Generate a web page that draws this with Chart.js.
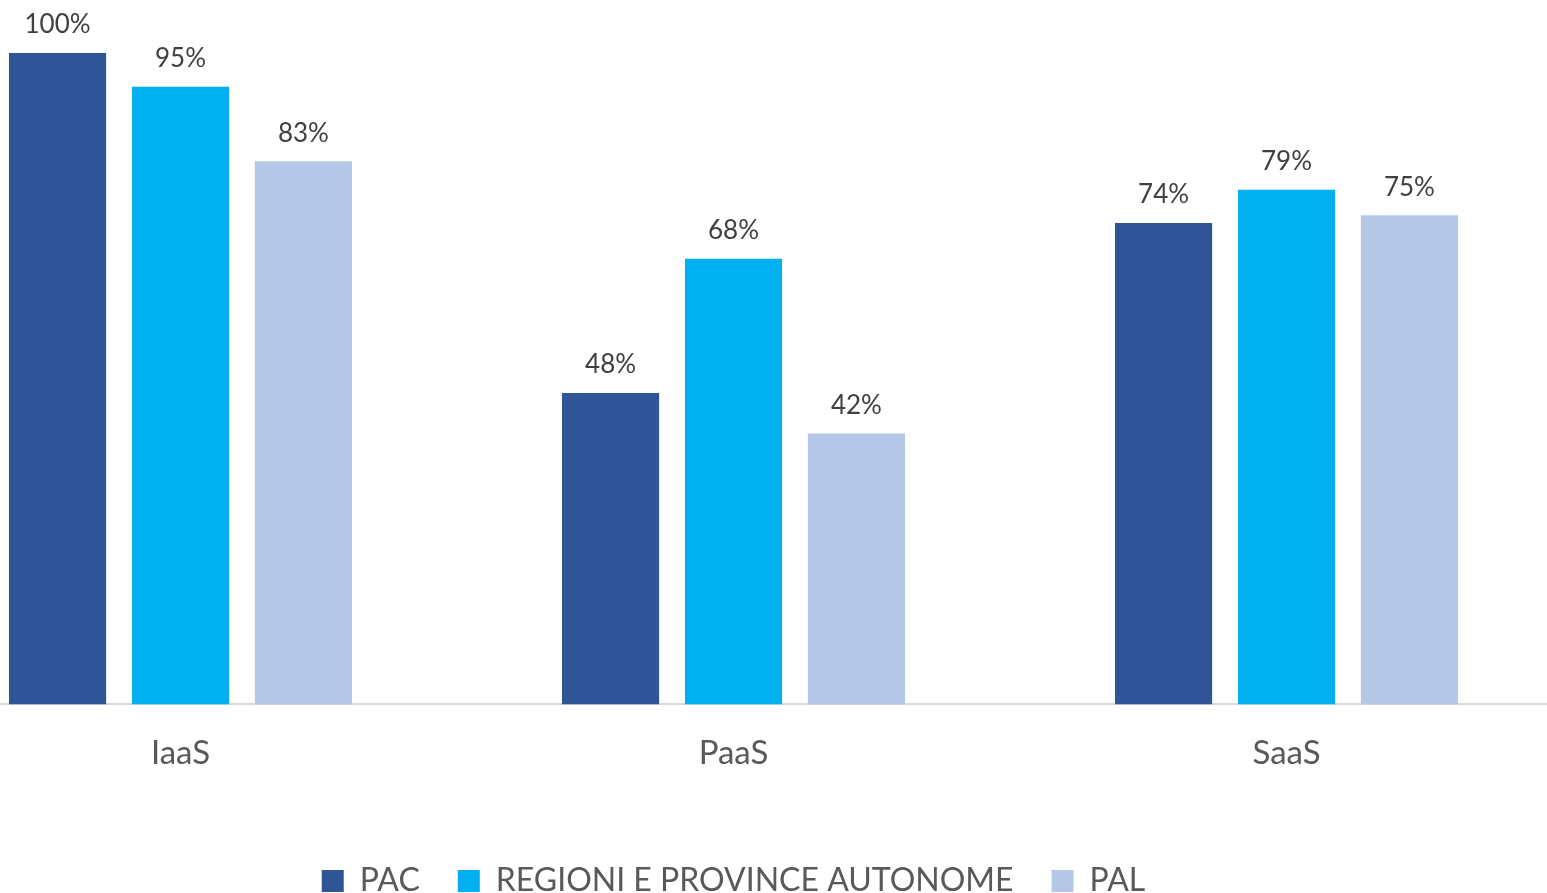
<!DOCTYPE html>
<html>
<head>
<meta charset="utf-8">
<script src="https://cdn.jsdelivr.net/npm/chart.js@4"></script>
<style>
html,body{margin:0;padding:0;background:#fff;overflow:hidden;width:1547px;height:893px;}
#wrap{position:absolute;left:-96px;top:0;width:1659px;height:907px;}
</style>
</head>
<body>
<div id="wrap"><canvas id="c"></canvas></div>
<script>
const categories = ['IaaS', 'PaaS', 'SaaS'];
const seriesNames = ['PAC', 'REGIONI E PROVINCE AUTONOME', 'PAL'];
const pacValues = [100, 47.8, 73.9];
const regioniValues = [94.8, 68.4, 79.0];
const palValues = [83.4, 41.6, 75.1];
const colors = ['#2F5597', '#00B0F0', '#B4C7E7'];

const FONT = 'Lato, "Open Sans", sans-serif';

const dataLabelPlugin = {
  id: 'dataLabels',
  afterDatasetsDraw(chart) {
    const ctx = chart.ctx;
    ctx.save();
    ctx.font = '26px ' + FONT;
    ctx.fillStyle = '#404040';
    ctx.textAlign = 'center';
    ctx.textBaseline = 'middle';
    chart.data.datasets.forEach((ds, i) => {
      const meta = chart.getDatasetMeta(i);
      meta.data.forEach((bar, j) => {
        ctx.fillText(Math.round(ds.data[j]) + '%', bar.x, bar.y - 28);
      });
    });
    ctx.restore();
  }
};

new Chart(document.getElementById('c'), {
  type: 'bar',
  data: {
    labels: categories,
    datasets: [
      { label: seriesNames[0], data: pacValues, backgroundColor: colors[0] },
      { label: seriesNames[1], data: regioniValues, backgroundColor: colors[1] },
      { label: seriesNames[2], data: palValues, backgroundColor: colors[2] }
    ]
  },
  options: {
    responsive: true,
    maintainAspectRatio: false,
    animation: false,
    layout: { padding: { top: 53, left: 0, right: 0, bottom: 0 } },
    datasets: { bar: { categoryPercentage: 0.667, barPercentage: 0.79 } },
    scales: {
      x: {
        grid: { display: false, drawTicks: false },
        border: { display: true, color: '#D9D9D9', width: 2 },
        ticks: { color: '#595959', font: { family: FONT, size: 33 }, padding: 29 },
        afterFit: (scale) => { scale.height += 25; }
      },
      y: {
        display: false,
        min: 0,
        max: 100
      }
    },
    plugins: {
      legend: {
        position: 'bottom',
        labels: {
          color: '#595959',
          font: { family: FONT, size: 32 },
          boxWidth: 22,
          boxHeight: 22,
          padding: 38
        }
      },
      tooltip: { enabled: false }
    }
  },
  plugins: [dataLabelPlugin]
});
</script>
</body>
</html>
